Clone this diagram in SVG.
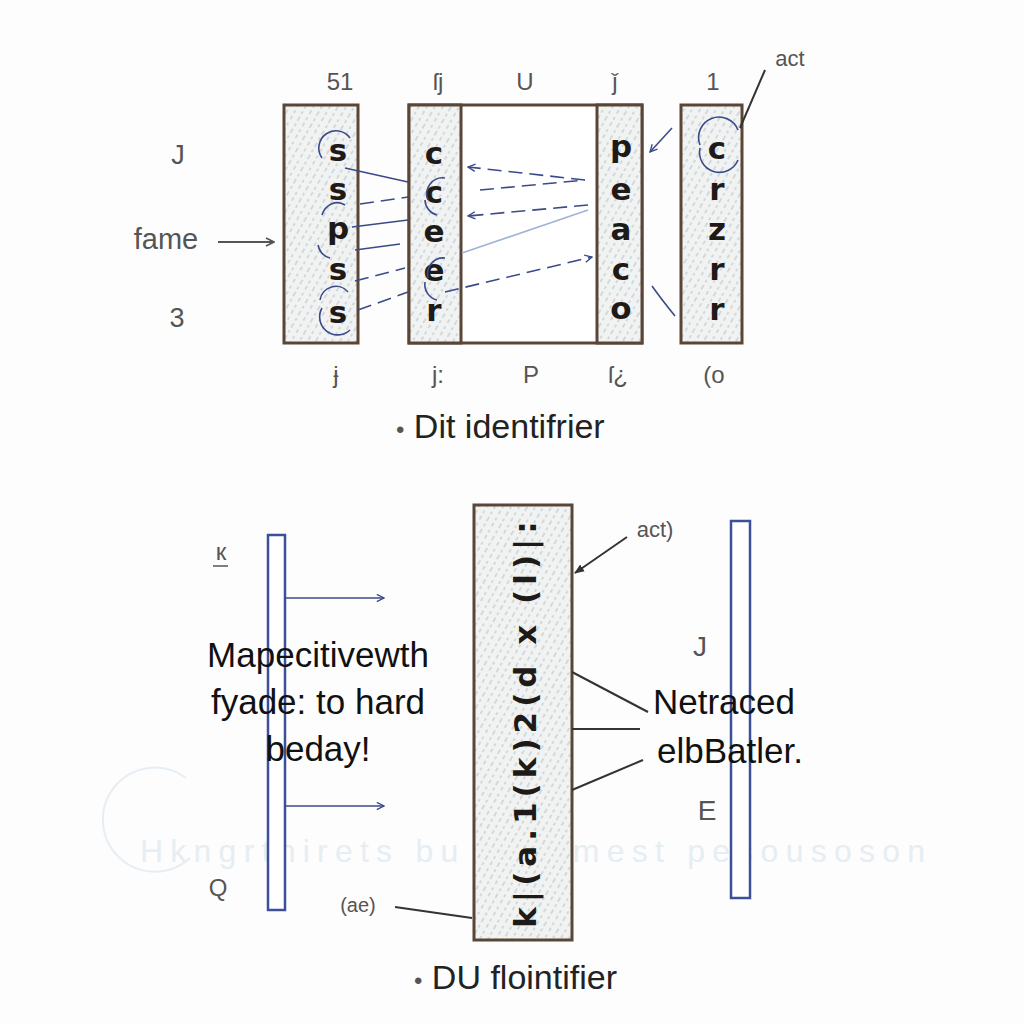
<svg xmlns="http://www.w3.org/2000/svg" width="1024" height="1024" viewBox="0 0 1024 1024">
<defs>
<pattern id="hatch" width="14" height="14" patternUnits="userSpaceOnUse" patternTransform="rotate(-60)">
<rect width="14" height="14" fill="#f1f3f3"/>
<path d="M0 3h4M7 3h3M2 10h5M10 10h3" stroke="#b8bec4" stroke-width="1"/>
</pattern>
<marker id="ah" viewBox="0 0 10 10" refX="9" refY="5" markerWidth="9" markerHeight="9" orient="auto-start-reverse" markerUnits="userSpaceOnUse">
<path d="M1 1L9 5L1 9" fill="none" stroke="#3a4a8a" stroke-width="1.5"/>
</marker>
<marker id="ahk" viewBox="0 0 10 10" refX="9" refY="5" markerWidth="10" markerHeight="10" orient="auto" markerUnits="userSpaceOnUse">
<path d="M0 1L10 5L0 9z" fill="#333"/>
</marker>
<marker id="ahg" viewBox="0 0 10 10" refX="9" refY="5" markerWidth="10" markerHeight="10" orient="auto" markerUnits="userSpaceOnUse">
<path d="M1 1L9 5L1 9" fill="none" stroke="#555" stroke-width="1.6"/>
</marker>
</defs>
<style>
.box{fill:url(#hatch);stroke:#5a4636;stroke-width:3}
.plain{fill:#fff;stroke:#5a4636;stroke-width:3}
.bar{fill:#fff;stroke:#3d4f99;stroke-width:2.5}
.let{font-family:"DejaVu Sans",sans-serif;font-size:31px;font-weight:bold;fill:#1e1a18;text-anchor:middle}
.lab{font-family:"Liberation Sans",Arial,sans-serif;fill:#555;text-anchor:middle}
.big{font-family:"Liberation Sans",Arial,sans-serif;font-size:35px;fill:#111;text-anchor:middle}
.cap{font-family:"Liberation Sans",Arial,sans-serif;font-size:34px;fill:#222}
.bl{fill:none;stroke:#3a4a8a;stroke-width:1.6}
.dash{stroke-dasharray:14 7}
.lb{fill:none;stroke:#9fb3d6;stroke-width:1.6}
.k{fill:none;stroke:#333;stroke-width:2}
.wm{fill:none;stroke:#e6eef4;stroke-width:2}
</style>
<rect width="1024" height="1024" fill="#fdfdfd"/>

<g id="watermark">
<path class="wm" d="M186 778 A52 52 0 1 0 190 858"/>
<text x="140" y="862" font-family="Liberation Sans,Arial,sans-serif" font-size="32" fill="#e6edf3" textLength="785" lengthAdjust="spacing">Hkngrthirets bu   ursemest pesousoson</text>
</g>

<g id="box1">
<rect class="box" x="284" y="105" width="74" height="238"/>
<text class="let" x="338" y="161">s</text>
<text class="let" x="338" y="200">s</text>
<text class="let" x="338" y="239">p</text>
<text class="let" x="338" y="280">s</text>
<text class="let" x="338" y="323">s</text>
</g>

<g id="box2">
<rect class="plain" x="409" y="105" width="233" height="238"/>
<rect class="box" x="409" y="105" width="52" height="238"/>
<rect class="box" x="597" y="105" width="45" height="238"/>
<text class="let" x="434" y="164">c</text>
<text class="let" x="434" y="203">c</text>
<text class="let" x="434" y="242">e</text>
<text class="let" x="434" y="281">e</text>
<text class="let" x="434" y="321">r</text>
<text class="let" x="621" y="157">p</text>
<text class="let" x="621" y="200">e</text>
<text class="let" x="621" y="240">a</text>
<text class="let" x="621" y="280">c</text>
<text class="let" x="621" y="319">o</text>
</g>

<g id="box4">
<rect class="box" x="681" y="105" width="61" height="238"/>
<text class="let" x="717" y="159">c</text>
<text class="let" x="717" y="200">r</text>
<text class="let" x="717" y="240">z</text>
<text class="let" x="717" y="280">r</text>
<text class="let" x="717" y="320">r</text>
</g>

<g id="top-labels">
<text class="lab" font-size="24" x="340" y="90">51</text>
<text class="lab" font-size="24" x="438" y="90">ſj</text>
<text class="lab" font-size="24" x="525" y="90">U</text>
<text class="lab" font-size="24" x="615" y="90">ǰ</text>
<text class="lab" font-size="24" x="713" y="90">1</text>
<text class="lab" font-size="22" x="790" y="66" fill="#333">act</text>
<text class="lab" font-size="24" x="336" y="383">ɉ</text>
<text class="lab" font-size="24" x="438" y="383">j:</text>
<text class="lab" font-size="24" x="531" y="383">P</text>
<text class="lab" font-size="24" x="618" y="383">ſ¿</text>
<text class="lab" font-size="24" x="714" y="383">(o</text>
<text class="lab" font-size="27" x="178" y="164">J</text>
<text class="lab" font-size="29" x="166" y="249">fame</text>
<text class="lab" font-size="27" x="177" y="327">3</text>
<text class="cap" x="396" y="438"><tspan fill="#555" font-size="24">•</tspan> Dit identifrier</text>
</g>

<g id="connectors-top">
<line x1="218" y1="242" x2="274" y2="242" stroke="#555" stroke-width="2" marker-end="url(#ahg)"/>
<line x1="765" y1="70" x2="740" y2="128" class="k"/>
<path class="bl" d="M322 158 A16 16 0 0 1 350 138"/>
<path class="bl" d="M322 215 A16 18 0 0 1 345 205 M318 245 A16 18 0 0 0 330 258"/>
<path class="bl" d="M322 308 A18 18 0 0 0 350 330 M320 300 A16 16 0 0 1 348 292"/>
<path class="bl" d="M428 200 A16 16 0 0 1 445 178 M425 200 A16 16 0 0 0 437 215"/>
<path class="bl" d="M428 278 A16 16 0 0 1 445 258 M425 282 A16 16 0 0 0 437 300"/>
<path class="bl" d="M700 145 A20 20 0 0 1 738 130 M700 148 A20 20 0 0 0 738 160"/>
<line class="bl" x1="345" y1="168" x2="408" y2="182"/>
<line class="bl dash" x1="360" y1="204" x2="408" y2="197"/>
<line class="bl" x1="352" y1="227" x2="408" y2="220"/>
<line class="bl" x1="355" y1="250" x2="400" y2="244"/>
<line class="bl dash" x1="355" y1="281" x2="405" y2="268"/>
<line class="bl dash" x1="358" y1="310" x2="408" y2="292"/>
<line class="bl dash" x1="585" y1="180" x2="468" y2="167" marker-end="url(#ah)"/>
<line class="bl dash" x1="480" y1="190" x2="585" y2="180"/>
<line class="bl dash" x1="588" y1="205" x2="468" y2="216" marker-end="url(#ah)"/>
<line class="lb" x1="462" y1="253" x2="588" y2="210"/>
<line class="bl dash" x1="445" y1="292" x2="592" y2="257" marker-end="url(#ah)"/>
<path class="bl" d="M672 128 L650 152" marker-end="url(#ah)"/>
<path class="bl" d="M675 316 Q662 300 652 286"/>
</g>

<g id="bar-left">
<rect class="bar" x="268" y="535" width="17" height="375"/>
</g>
<g id="box-center">
<rect class="box" x="474" y="505" width="98" height="435"/>
<text class="let" transform="translate(536 722) rotate(-90)" font-size="36" letter-spacing="5">k|(a.1(k)2(d x (l)|:</text>
</g>
<g id="bar-right">
<rect class="bar" x="731" y="521" width="19" height="377"/>
</g>

<g id="bottom-labels">
<text class="lab" font-size="24" x="221" y="560">к</text>
<line x1="213" y1="566" x2="228" y2="566" stroke="#555" stroke-width="1.5"/>
<text class="lab" font-size="24" x="218" y="896">Q</text>
<text class="big" x="318" y="667">Mapecitivewth</text>
<text class="big" x="318" y="714">fyade: to hard</text>
<text class="big" x="318" y="761">beday!</text>
<text class="lab" font-size="22" x="655" y="537" fill="#333">act)</text>
<text class="lab" font-size="20" x="358" y="912" fill="#333">(ae)</text>
<text class="big" x="724" y="714">Netraced</text>
<text class="big" x="730" y="763">elbBatler.</text>
<text class="lab" font-size="28" x="700" y="656">J</text>
<text class="lab" font-size="28" x="707" y="820">E</text>
<text class="cap" x="414" y="989"><tspan fill="#555" font-size="24">•</tspan> DU flointifier</text>
</g>

<g id="connectors-bottom">
<line class="bl" x1="285" y1="598" x2="384" y2="598" marker-end="url(#ah)"/>
<line class="bl" x1="285" y1="806" x2="384" y2="806" marker-end="url(#ah)"/>
<line class="k" x1="627" y1="537" x2="575" y2="573" marker-end="url(#ahk)"/>
<line class="k" x1="395" y1="907" x2="472" y2="918"/>
<line class="k" x1="572" y1="672" x2="648" y2="712"/>
<line class="k" x1="572" y1="729" x2="640" y2="729"/>
<line class="k" x1="572" y1="790" x2="643" y2="760"/>
</g>
</svg>
